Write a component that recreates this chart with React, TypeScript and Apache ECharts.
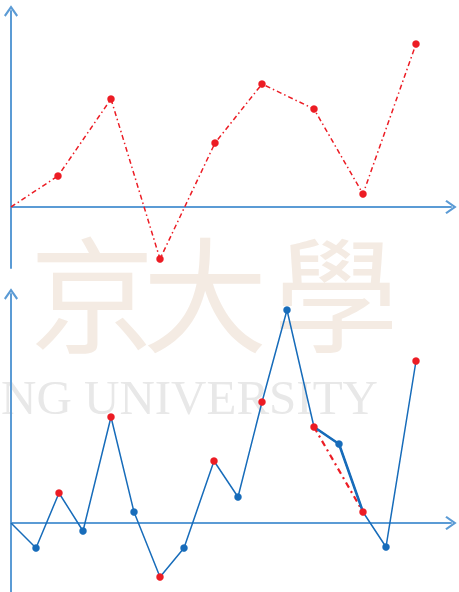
import React, { useEffect, useRef } from "react";
import * as echarts from "echarts";

// Upper panel: original samples (x offset from the y axis, value above the x axis)
const upperX = [0, 47, 100, 149, 204, 251, 303, 352, 405];
const upperY = [0, 31, 108, -52, 64, 123, 98, 13, 163];

// Lower panel: interpolated sequence
const lowerX = [0, 25, 48, 72, 100, 123, 149, 173, 203, 227, 251, 276, 303, 328, 352, 375, 405];
const lowerY = [0, -25, 30, -8, 106, 11, -54, -25, 62, 26, 121, 213, 96, 79, 11, -24, 162];
const lowerKind = ["none", "b", "r", "b", "r", "b", "r", "b", "r", "b", "r", "b", "r", "b", "r", "b", "r"];

// highlighted part of the lower sequence (indices)
const thickSegment = [12, 13, 14];
const dashedSegment = [12, 14];

// watermark texts
const markChars = ["京", "大", "學"];
const markWord = "NG UNIVERSITY";

const RED = "#ec1c24";
const BLUE = "#176cba";
const AXIS = "#5b9bd5";
const ARROW = "path://M0,10 L7,0 L14,10 L12.4,11.4 L7,3.6 L1.6,11.4 Z";

export default function App() {
  const ref = useRef<HTMLDivElement>(null);
  useEffect(() => {
    document.body.style.margin = "0";
    const chart = echarts.init(ref.current!, null, { renderer: "svg" });
    const axisLine = {
      show: true,
      onZero: true,
      symbol: ["none", ARROW],
      symbolSize: [14, 12],
      lineStyle: { color: AXIS, width: 2 },
    };
    const hidden = {
      axisTick: { show: false },
      axisLabel: { show: false },
      splitLine: { show: false },
    };
    const option: any = {
      animation: false,
      grid: [
        { left: 11, top: 11, width: 440, height: 257 },
        { left: 11, top: 294, width: 440, height: 298 },
      ],
      xAxis: [
        { type: "value", gridIndex: 0, min: 0, max: 440, axisLine, ...hidden },
        { type: "value", gridIndex: 1, min: 0, max: 440, axisLine, ...hidden },
      ],
      yAxis: [
        { type: "value", gridIndex: 0, min: -61, max: 196, axisLine, ...hidden },
        { type: "value", gridIndex: 1, min: -69, max: 229, axisLine, ...hidden },
      ],
      graphic: [
        ...markChars.map((ch, i) => ({
          type: "text",
          z: -10,
          x: [92, 205, 336][i],
          y: 288,
          style: {
            text: ch,
            fontSize: 125,
            fontFamily: "Noto Sans CJK TC",
            fill: "#f4ebe3",
            align: "center",
            verticalAlign: "middle",
          },
        })),
        {
          type: "text",
          z: -10,
          x: 1,
          y: 397,
          style: {
            text: markWord,
            fontSize: 49,
            fontFamily: "Liberation Serif",
            fill: "#e8e8e8",
            align: "left",
            verticalAlign: "middle",
          },
        },
      ],
      series: [
        {
          type: "line",
          xAxisIndex: 0,
          yAxisIndex: 0,
          data: upperX.map((x, i) =>
            i === 0 ? { value: [x, upperY[i]], symbol: "none" } : [x, upperY[i]]
          ),
          symbol: "circle",
          symbolSize: 7.5,
          itemStyle: { color: RED },
          lineStyle: { color: RED, width: 1.5, type: [5, 3, 1.5, 3] },
          z: 3,
        },
        {
          type: "line",
          xAxisIndex: 1,
          yAxisIndex: 1,
          data: dashedSegment.map((i) => [lowerX[i], lowerY[i]]),
          symbol: "none",
          lineStyle: { color: RED, width: 2.2, type: [6, 4, 2, 4] },
          z: 3,
        },
        {
          type: "line",
          xAxisIndex: 1,
          yAxisIndex: 1,
          data: thickSegment.map((i) => [lowerX[i], lowerY[i]]),
          symbol: "none",
          lineStyle: { color: BLUE, width: 2.6 },
          z: 3,
        },
        {
          type: "line",
          xAxisIndex: 1,
          yAxisIndex: 1,
          data: lowerX.map((x, i) => ({
            value: [x, lowerY[i]],
            symbol: lowerKind[i] === "none" ? "none" : "circle",
            itemStyle: { color: lowerKind[i] === "r" ? RED : BLUE },
          })),
          symbolSize: 7.5,
          lineStyle: { color: BLUE, width: 1.5 },
          z: 3,
        },
      ],
    };
    chart.setOption(option);
    return () => chart.dispose();
  }, []);
  return <div ref={ref} style={{ width: 459, height: 592 }} />;
}
